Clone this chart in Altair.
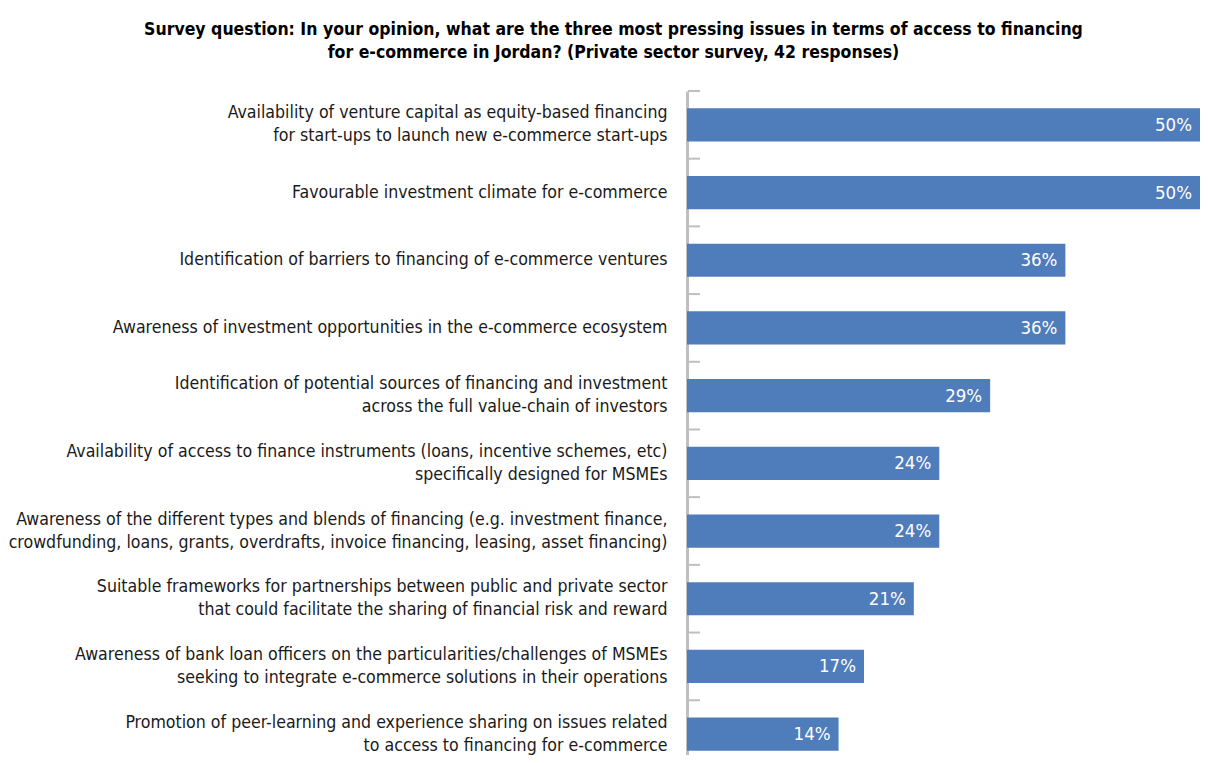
import altair as alt
import pandas as pd

categories = [
    "Availability of venture capital as equity-based financing\nfor start-ups to launch new e-commerce start-ups",
    "Favourable investment climate for e-commerce",
    "Identification of barriers to financing of e-commerce ventures",
    "Awareness of investment opportunities in the e-commerce ecosystem",
    "Identification of potential sources of financing and investment\nacross the full value-chain of investors",
    "Availability of access to finance instruments (loans, incentive schemes, etc)\nspecifically designed for MSMEs",
    "Awareness of the different types and blends of financing (e.g. investment finance,\ncrowdfunding, loans, grants, overdrafts, invoice financing, leasing, asset financing)",
    "Suitable frameworks for partnerships between public and private sector\nthat could facilitate the sharing of financial risk and reward",
    "Awareness of bank loan officers on the particularities/challenges of MSMEs\nseeking to integrate e-commerce solutions in their operations",
    "Promotion of peer-learning and experience sharing on issues related\nto access to financing for e-commerce",
]
shares = [0.500, 0.500, 0.357, 0.357, 0.286, 0.238, 0.238, 0.214, 0.167, 0.143]

title_lines = [
    "Survey question: In your opinion, what are the three most pressing issues in terms of access to financing",
    "for e-commerce in Jordan? (Private sector survey, 42 responses)",
]

df = pd.DataFrame({"issue": categories, "share": shares})

FONT = "DejaVu Sans Condensed, Liberation Sans Narrow, sans-serif"
BAR = "#4F7CBB"
GREY = "#BFBFBF"

y_enc = alt.Y(
    "issue:N",
    sort=categories,
    scale=alt.Scale(range=[0, 677], paddingInner=0.51, paddingOuter=0.255),
    axis=alt.Axis(
        title=None,
        ticks=False,
        domainColor=GREY,
        domainWidth=3,
        labelPadding=20,
        labelFont=FONT,
        labelFontSize=17.6,
        labelColor="#1a1a1a",
        labelLimit=1000,
        labelLineHeight=23,
        labelOffset={
            "condition": {"test": "indexof(datum.value, '\\n') >= 0", "value": -11.5},
            "value": 0,
        },
        labelExpr="split(datum.value, '\\n')",
    ),
)
x_scale = alt.Scale(domain=[0, 0.484], nice=False, clamp=True)

bars = alt.Chart(df).mark_bar(color=BAR).encode(
    y=y_enc,
    x=alt.X("share:Q", scale=x_scale, axis=None),
)

labels = alt.Chart(df).mark_text(
    align="right", baseline="middle", dx=-8, color="white", font=FONT, fontSize=18.5
).encode(
    y=alt.Y("issue:N", sort=categories),
    x=alt.X("share:Q", scale=x_scale),
    text=alt.Text("share:Q", format=".0%"),
)

ticks = alt.Chart(df).mark_rule(color=GREY, strokeWidth=2, yOffset=-17.3).encode(
    y=alt.Y("issue:N", sort=categories, bandPosition=0),
    x=alt.value(1),
    x2=alt.value(13),
)

chart = (
    alt.layer(bars, ticks, labels)
    .properties(
        width=513,
        height=664,
        autosize=alt.AutoSizeParams(type="none"),
        padding={"left": 679, "top": 83, "right": 0, "bottom": 0},
        title=alt.TitleParams(
            text=title_lines,
            font=FONT,
            fontSize=17.5,
            fontWeight="bold",
            color="#000000",
            anchor="middle",
            frame="group",
            dx=-330,
            offset=28,
            lineHeight=23,
        ),
    )
    .configure_view(stroke=None)
)

chart.save("out.html", embed_options={"renderer": "svg", "actions": False})
